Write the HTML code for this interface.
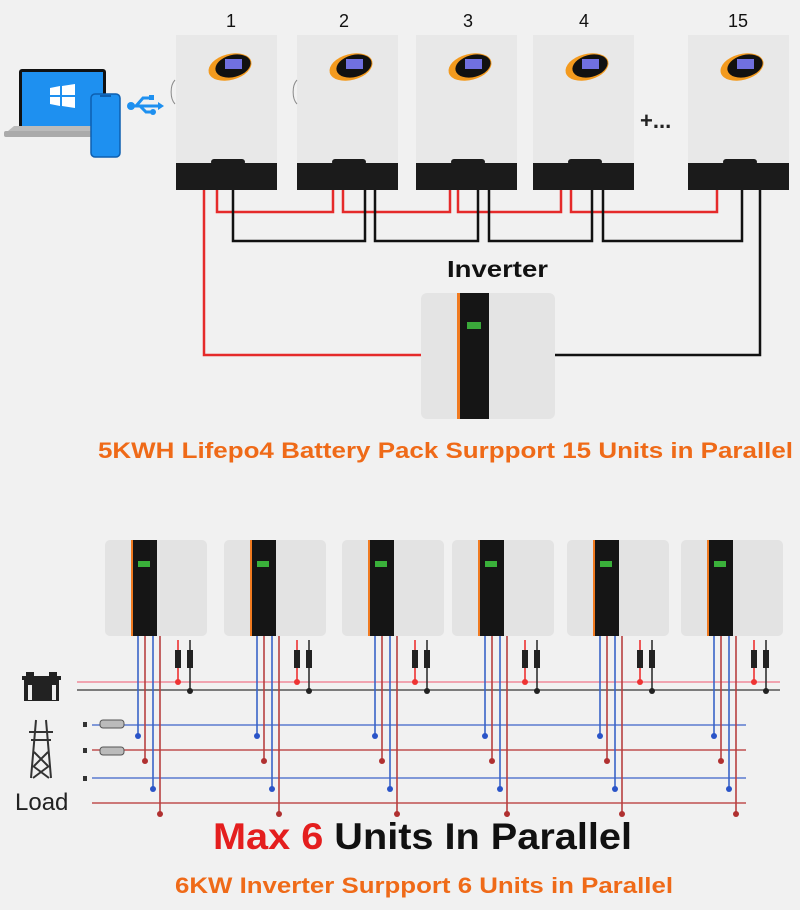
<!DOCTYPE html>
<html><head><meta charset="utf-8"><style>
html,body{margin:0;padding:0;background:#f1f1f1;}
svg{display:block;}
</style></head><body>
<svg width="800" height="910" viewBox="0 0 800 910" xmlns="http://www.w3.org/2000/svg" font-family="Liberation Sans, sans-serif">
<rect width="800" height="910" fill="#f1f1f1"/>
<!-- laptop -->
<rect x="19" y="69" width="87" height="60" rx="3" fill="#111"/>
<rect x="22" y="72" width="81" height="54" fill="#1e90f0"/>
<g fill="#fff"><path d="M50 88 l10 -2 v9 h-10z"/><path d="M62 86 l13 -2 v11 h-13z"/><path d="M50 97 h10 v9 l-10 -2z"/><path d="M62 97 h13 v11 l-13 -2z"/></g>
<path d="M8 131 h105 l-4 -5 H14z" fill="#bbb"/><rect x="4" y="131" width="112" height="6" rx="2" fill="#aaa"/>
<rect x="91" y="94" width="29" height="63" rx="4" fill="#1e90f0" stroke="#0d5fb0" stroke-width="1.5"/>
<rect x="100" y="95" width="11" height="2" fill="#0d5fb0"/>
<!-- usb -->
<g stroke="#1e90f0" stroke-width="3" fill="#1e90f0"><line x1="130" y1="106" x2="158" y2="106"/><polyline points="136,106 143,98 150,98" fill="none"/><polyline points="140,106 146,112 152,112" fill="none"/></g>
<circle cx="131" cy="106" r="4" fill="#1e90f0"/><rect x="149" y="95" width="5" height="5" fill="#1e90f0"/><circle cx="153" cy="112" r="3" fill="#1e90f0"/>
<path d="M158 102 l6 4 l-6 4z" fill="#1e90f0"/>
<!-- top units -->
<g font-size="18" fill="#111" text-anchor="middle">
<text x="231" y="27">1</text><text x="344" y="27">2</text><text x="468" y="27">3</text><text x="584" y="27">4</text><text x="738" y="27">15</text></g>
<defs><g id="tu">
<rect x="0" y="0" width="101" height="130" fill="#e8e8e8"/>
<rect x="0" y="128" width="101" height="27" fill="#1b1b1b"/>
<rect x="35" y="124" width="34" height="6" rx="3" fill="#1b1b1b"/>
<ellipse cx="54" cy="32" rx="22" ry="13" fill="#f39a1e" transform="rotate(-15 54 32)"/>
<ellipse cx="57" cy="31" rx="18" ry="11" fill="#111" transform="rotate(-15 57 31)"/>
<rect x="49" y="24" width="17" height="10" fill="#7070e0"/>
</g></defs>
<use href="#tu" x="176" y="35"/><use href="#tu" x="297" y="35"/><use href="#tu" x="416" y="35"/><use href="#tu" x="533" y="35"/><use href="#tu" x="688" y="35"/>
<path d="M176 80 a8 14 0 0 0 0 24" fill="none" stroke="#888" stroke-width="1" transform="translate(-1 0)"/>
<path d="M297 80 a8 14 0 0 0 0 24" fill="none" stroke="#888"/>
<text x="640" y="128" font-size="22" font-weight="bold" fill="#222">+...</text>
<!-- wires top -->
<g fill="none" stroke="#e52a2a" stroke-width="2.5">
<polyline points="204,190 204,355 422,355"/>
<polyline points="217,190 217,212 333,212 333,190"/>
<polyline points="343,190 343,212 450,212 450,190"/>
<polyline points="458,190 458,212 561,212 561,190"/>
<polyline points="571,190 571,212 717,212 717,190"/>
</g>
<g fill="none" stroke="#111" stroke-width="2.5">
<polyline points="233,190 233,241 365,241 365,190"/>
<polyline points="375,190 375,241 478,241 478,190"/>
<polyline points="489,190 489,241 592,241 592,190"/>
<polyline points="603,190 603,241 742,241 742,190"/>
<polyline points="760,190 760,355 555,355"/>
</g>
<text x="447" y="277" font-size="23" font-weight="bold" fill="#111" textLength="101" lengthAdjust="spacingAndGlyphs">Inverter</text>
<rect x="421" y="293" width="134" height="126" rx="6" fill="#e4e4e4"/>
<rect x="457" y="293" width="32" height="126" fill="#151515"/>
<rect x="457" y="293" width="3" height="126" fill="#f07a20"/>
<rect x="467" y="322" width="14" height="7" fill="#3aa83a"/>
<text x="98" y="458" font-size="22" font-weight="bold" fill="#ef6a18" textLength="695" lengthAdjust="spacingAndGlyphs">5KWH Lifepo4 Battery Pack Surpport 15 Units in Parallel</text>
<!-- bottom -->
<defs><g id="bu">
<rect x="0" y="0" width="102" height="96" rx="5" fill="#e3e3e3"/>
<rect x="26" y="0" width="26" height="96" fill="#151515"/>
<rect x="26" y="0" width="2" height="96" fill="#f07a20"/>
<rect x="33" y="21" width="12" height="6" fill="#3ab03a"/>
<g stroke-width="1.6" fill="none">
<line x1="33" y1="96" x2="33" y2="196" stroke="#3a64c8"/>
<line x1="40" y1="96" x2="40" y2="221" stroke="#b84040"/>
<line x1="48" y1="96" x2="48" y2="249" stroke="#3a64c8"/>
<line x1="55" y1="96" x2="55" y2="274" stroke="#b84040"/>
<line x1="73" y1="100" x2="73" y2="141" stroke="#e33"/>
<line x1="85" y1="100" x2="85" y2="151" stroke="#333"/>
</g>
<rect x="70" y="110" width="6" height="18" fill="#222"/><rect x="82" y="110" width="6" height="18" fill="#222"/>
<circle cx="33" cy="196" r="3" fill="#2a54c8"/><circle cx="40" cy="221" r="3" fill="#b03030"/>
<circle cx="48" cy="249" r="3" fill="#2a54c8"/><circle cx="55" cy="274" r="3" fill="#b03030"/>
<circle cx="73" cy="142" r="3" fill="#e33"/><circle cx="85" cy="151" r="3" fill="#222"/>
</g></defs>
<g stroke-width="1.6">
<line x1="77" y1="682" x2="780" y2="682" stroke="#f08a9a"/>
<line x1="77" y1="690" x2="780" y2="690" stroke="#555"/>
<line x1="92" y1="725" x2="746" y2="725" stroke="#5a7ad0"/>
<line x1="92" y1="750" x2="746" y2="750" stroke="#c05050"/>
<line x1="92" y1="778" x2="746" y2="778" stroke="#5a7ad0"/>
<line x1="92" y1="803" x2="746" y2="803" stroke="#c05050"/>
</g>
<use href="#bu" x="105" y="540"/><use href="#bu" x="224" y="540"/><use href="#bu" x="342" y="540"/><use href="#bu" x="452" y="540"/><use href="#bu" x="567" y="540"/><use href="#bu" x="681" y="540"/>
<!-- icons -->
<rect x="22" y="676" width="39" height="4" fill="#222"/><rect x="26" y="672" width="8" height="5" fill="#222"/><rect x="49" y="672" width="8" height="5" fill="#222"/>
<rect x="24" y="680" width="35" height="21" fill="#222"/><rect x="28" y="685" width="4" height="15" fill="#eee"/><rect x="52" y="685" width="4" height="15" fill="#eee"/>
<g stroke="#333" stroke-width="2" fill="none"><path d="M36 720 L31 778 M46 720 L51 778 M29 732 H53 M31 740 H51 M34 752 L48 766 M48 752 L34 766 M33 766 L49 778 M49 766 L33 778"/></g>
<rect x="100" y="720" width="24" height="8" rx="3" fill="#bbb" stroke="#555"/><rect x="100" y="747" width="24" height="8" rx="3" fill="#bbb" stroke="#555"/>
<rect x="83" y="722" width="4" height="5" fill="#333"/><rect x="83" y="748" width="4" height="5" fill="#333"/><rect x="83" y="776" width="4" height="5" fill="#333"/>
<text x="15" y="810" font-size="24" fill="#222">Load</text>
<text x="213" y="849" font-size="37" font-weight="bold" fill="#111" textLength="419" lengthAdjust="spacingAndGlyphs"><tspan fill="#e41e1e">Max 6</tspan> Units In Parallel</text>
<text x="175" y="893" font-size="22" font-weight="bold" fill="#ef6a18" textLength="498" lengthAdjust="spacingAndGlyphs">6KW Inverter Surpport 6 Units in Parallel</text>
</svg>
</body></html>
